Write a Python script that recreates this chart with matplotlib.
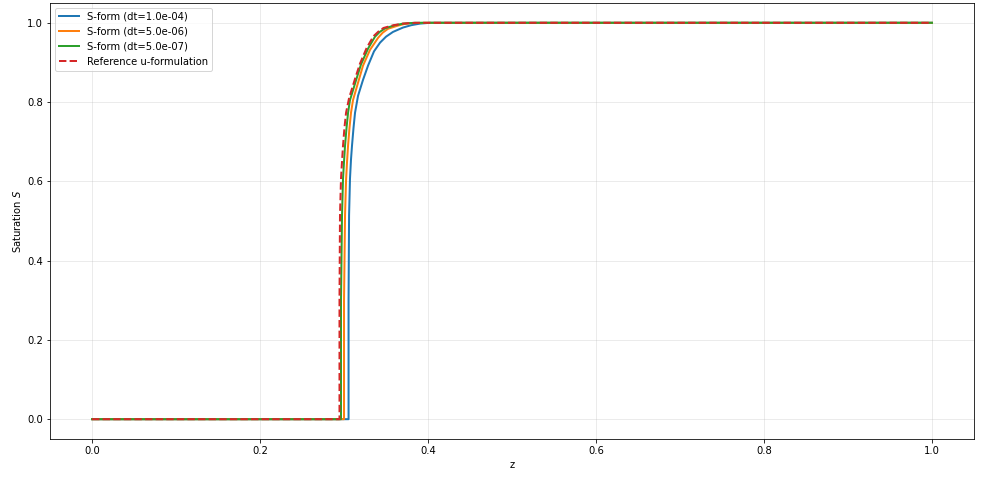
import numpy as np
import matplotlib.pyplot as plt

# saturation profiles (z, S)
z_dt1 = [0.0, 0.3054, 0.3054, 0.3060, 0.3071, 0.3083, 0.3095, 0.3113, 0.3131, 0.3167, 0.3226, 0.3286,
         0.3357, 0.3429, 0.3500, 0.3583, 0.3702, 0.3800, 0.3905, 0.4024, 1.0]
S_dt1 = [0.0, 0.0, 0.300, 0.514, 0.607, 0.655, 0.690, 0.735, 0.773, 0.816, 0.856, 0.892,
         0.928, 0.950, 0.965, 0.977, 0.988, 0.994, 0.998, 1.0, 1.0]

z_dt2 = [0.0, 0.3000, 0.3000, 0.3012, 0.3024, 0.3036, 0.3048, 0.3065, 0.3083, 0.3107, 0.3167, 0.3226,
         0.3310, 0.3405, 0.3460, 0.3524, 0.3643, 0.3720, 0.3786, 0.3964, 1.0]
S_dt2 = [0.0, 0.0, 0.300, 0.514, 0.602, 0.650, 0.690, 0.735, 0.773, 0.805, 0.849, 0.892,
         0.932, 0.962, 0.975, 0.985, 0.993, 0.997, 0.999, 1.0, 1.0]

z_dt3 = [0.0, 0.2964, 0.2964, 0.2976, 0.2988, 0.3000, 0.3012, 0.3030, 0.3048, 0.3071, 0.3143, 0.3202,
         0.3286, 0.3369, 0.3425, 0.3488, 0.3607, 0.3660, 0.3702, 0.3845, 1.0]
S_dt3 = [0.0, 0.0, 0.300, 0.514, 0.607, 0.650, 0.690, 0.735, 0.773, 0.805, 0.855, 0.895,
         0.935, 0.965, 0.977, 0.986, 0.994, 0.996, 0.998, 1.0, 1.0]

z_ref = [0.0, 0.2946, 0.2946, 0.2952, 0.2964, 0.2976, 0.2988, 0.3005, 0.3024, 0.3060, 0.3130, 0.3190,
         0.3270, 0.3350, 0.3410, 0.3470, 0.3590, 0.3650, 0.3702, 0.3845, 1.0]
S_ref = [0.0, 0.0, 0.300, 0.514, 0.607, 0.650, 0.690, 0.735, 0.773, 0.810, 0.858, 0.897,
         0.937, 0.966, 0.978, 0.987, 0.994, 0.996, 0.998, 1.0, 1.0]

fig = plt.figure(figsize=(997 / 72, 481 / 72), dpi=72)
ax = fig.add_axes([0.0502, 0.0873, 0.9267, 0.9065])

ax.plot(z_dt1, S_dt1, color='tab:blue', lw=2, label='S-form (dt=1.0e-04)')
ax.plot(z_dt2, S_dt2, color='tab:orange', lw=2, label='S-form (dt=5.0e-06)')
ax.plot(z_dt3, S_dt3, color='tab:green', lw=2, label='S-form (dt=5.0e-07)')
ax.plot(z_ref, S_ref, color='tab:red', lw=2, ls='--', label='Reference u-formulation')

ax.set_xlabel('z')
ax.set_ylabel('Saturation $S$')
ax.grid(True, alpha=0.3)
ax.legend(loc='upper left')

fig.savefig('out.png', dpi=72)
